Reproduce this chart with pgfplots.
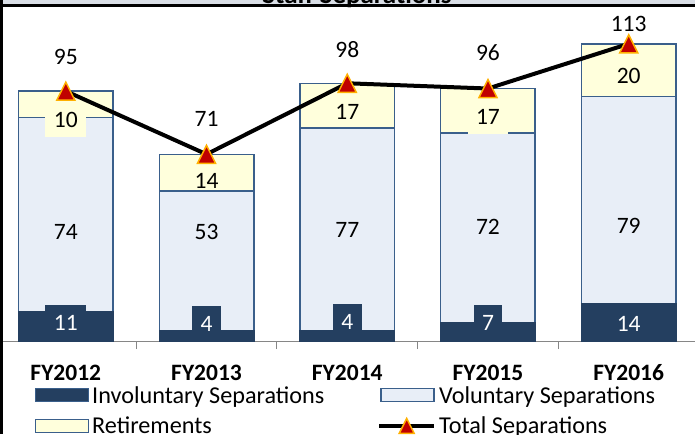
\documentclass[border=0pt]{standalone}
\usepackage{fontspec}
\setmainfont{Carlito}
\usepackage{pgfplots}
\pgfplotsset{compat=1.18}
\definecolor{navy}{HTML}{243F60}
\definecolor{volfill}{HTML}{E8EEF7}
\definecolor{barline}{HTML}{3A5F8B}
\definecolor{retfill}{HTML}{FFFFDC}
\definecolor{tri}{HTML}{C00000}
\definecolor{trib}{HTML}{FFB000}
\definecolor{band}{HTML}{D9DEE6}
\definecolor{axgray}{HTML}{868686}
\tikzset{lab/.style={inner xsep=8.5pt, inner ysep=0pt, minimum height=36pt}}
\pgfdeclareplotmark{xtri}{%
  \pgfpathmoveto{\pgfqpoint{0pt}{9pt}}%
  \pgfpathlineto{\pgfqpoint{-9pt}{-9pt}}%
  \pgfpathlineto{\pgfqpoint{9pt}{-9pt}}%
  \pgfpathclose\pgfusepathqfillstroke}
\begin{document}
\fontsize{23.5}{28}\selectfont
\begin{tikzpicture}
\useasboundingbox (0,0) rectangle (695pt,434pt);
\clip (0,0) rectangle (695pt,434pt);
\begin{axis}[
  at={(-4.55pt,93pt)}, anchor=south west,
  scale only axis, width=703.6pt, height=334pt,
  xmin=-0.5, xmax=4.5, ymin=0, ymax=127,
  enlargelimits=false, clip=false,
  ybar stacked, bar width=94.5pt,
  axis x line*=bottom, axis y line=none,
  x axis line style={draw=axgray, line width=1pt, -},
  xtick={0,1,2,3,4},
  xticklabels={FY2012,FY2013,FY2014,FY2015,FY2016},
  major tick length=0pt,
  minor xtick={0.5,1.5,2.5,3.5},
  minor tick length=8pt, tick align=outside,
  minor tick style={draw=axgray, line width=1pt},
  xticklabel style={font=\bfseries\fontsize{23.5}{28}\selectfont, anchor=base, yshift=-39.6pt},
  legend columns=2,
  legend style={at={(0.0555,-0.1377)}, anchor=north west, draw=none, fill=none,
    inner sep=0pt, column sep=3pt, row sep=9.5pt,
    nodes={inner sep=0pt, text height=16pt, text depth=5pt, anchor=base west},
    font=\fontsize{24.2}{28}\selectfont},
]
\addplot[fill=navy, draw=navy, line width=1.5pt,
  legend image code/.code={\draw[fill=navy, draw=barline, line width=1.5pt] (0pt,1.5pt) rectangle (53pt,14.5pt);}]
  coordinates {(0,11) (1,4) (2,4) (3,7) (4,14)};
\addplot[fill=volfill, draw=barline, line width=1.5pt,
  legend image code/.code={\draw[fill=volfill, draw=barline, line width=1.5pt] (0pt,1.5pt) rectangle (53pt,14.5pt);}]
  coordinates {(0,74) (1,53) (2,77) (3,72) (4,79)};
\addplot[fill=retfill, draw=barline, line width=1.5pt,
  legend image code/.code={\draw[fill=retfill, draw=barline, line width=1.5pt] (0pt,1.5pt) rectangle (53pt,14.5pt);}]
  coordinates {(0,10) (1,14) (2,17) (3,17) (4,20)};
\addlegendimage{legend image code/.code={%
  \draw[black, line width=4pt] (-2pt,8pt) -- (53pt,8pt);
  \draw[fill=tri, draw=trib, line width=1.5pt] (25.5pt,15.5pt) -- (18pt,0.5pt) -- (33pt,0.5pt) -- cycle;}}
\legend{\makebox[282pt][l]{Involuntary Separations},Voluntary Separations,Retirements,Total Separations}
\end{axis}
\begin{axis}[
  at={(-4.55pt,93pt)}, anchor=south west,
  scale only axis, width=703.6pt, height=334pt,
  xmin=-0.5, xmax=4.5, ymin=0, ymax=127,
  enlargelimits=false, clip=false, hide axis,
]
\addplot[black, line width=4pt, mark=xtri,
  mark options={fill=tri, draw=trib, line width=1.5pt}]
  coordinates {(0,95) (1,71) (2,98) (3,96) (4,113)};
% involuntary labels
\node[lab, text=white, fill=navy] at (axis cs:0,7) {11};
\node[lab, text=white, fill=navy] at (axis cs:1,6.4) {4};
\node[lab, text=white, fill=navy] at (axis cs:2,7.2) {4};
\node[lab, text=white, fill=navy] at (axis cs:3,7) {7};
\node[lab, text=white, fill=navy] at (axis cs:4,6.4) {14};
% voluntary labels
\node[lab, fill=volfill] at (axis cs:0,41.6) {74};
\node[lab, fill=volfill] at (axis cs:1,41.6) {53};
\node[lab, fill=volfill] at (axis cs:2,42.2) {77};
\node[lab, fill=volfill] at (axis cs:3,43.5) {72};
\node[lab, fill=volfill] at (axis cs:4,43.7) {79};
% retirement labels
\node[lab, fill=retfill, minimum height=34pt] at (axis cs:0,84.0) {10};
\node[inner sep=0pt] at (axis cs:1,60.8) {14};
\node[lab, fill=retfill, minimum height=28pt] at (axis cs:2,87.2) {17};
\node[lab, fill=retfill, minimum height=34pt] at (axis cs:3,85.3) {17};
\node[lab, fill=retfill, minimum height=28pt] at (axis cs:4,100.8) {20};
% totals
\node at (axis cs:0,108.0) {95};
\node at (axis cs:1,84.4) {71};
\node at (axis cs:2,111.0) {98};
\node at (axis cs:3,109.5) {96};
\node at (axis cs:4,120.5) {113};
\end{axis}
\fill[band] (0,430pt) rectangle (695pt,434pt);
\node[font=\bfseries\fontsize{27}{30}\selectfont, anchor=base, inner sep=0pt] at (357pt,430.5pt) {Staff Separations};
\fill[black] (0,427pt) rectangle (695pt,430pt);
\fill[black] (0,0) rectangle (3pt,434pt);
\end{tikzpicture}
\end{document}
